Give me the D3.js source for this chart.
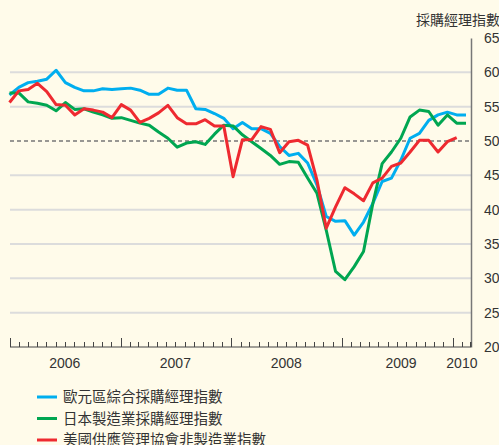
<!DOCTYPE html>
<html><head><meta charset="utf-8">
<script src="https://cdn.jsdelivr.net/npm/d3@7"></script>
<style>
html,body{margin:0;padding:0;background:#fffbea;}
svg{display:block;}
text{font-family:"Liberation Sans",Arial,"Noto Sans CJK TC",sans-serif;fill:#333;}
</style></head>
<body>
<script>
// ---- data (monthly, from Jan 2006) ----
const startMonth = "2006-01";
const euroComposite = [56.7,57.8,58.5,58.7,59.0,60.3,58.5,57.8,57.3,57.3,
  57.6,57.5,57.6,57.7,57.4,56.8,56.8,57.7,57.4,57.4,
  54.7,54.6,54.0,53.3,51.8,52.7,51.8,51.8,51.1,49.2,
  47.9,48.2,46.8,43.6,39.0,38.3,38.4,36.3,38.2,40.9,
  44.1,44.6,47.2,50.4,51.1,53.0,53.8,54.2,53.8,53.8];
const japanMfg = [57.0,57.0,55.7,55.5,55.2,54.4,55.6,54.6,54.7,54.2,
  53.8,53.3,53.4,53.0,52.6,52.3,51.3,50.4,49.1,49.7,
  49.9,49.5,51.0,52.3,52.2,50.9,49.9,48.9,47.9,46.6,
  47.0,46.9,44.6,42.4,37.0,31.0,29.8,31.7,33.9,40.9,
  46.7,48.4,50.4,53.5,54.5,54.3,52.3,53.8,52.6,52.6];
const usIsmNonMfg = [55.6,57.3,57.5,58.4,57.2,55.3,55.2,53.8,54.7,54.5,
  54.2,53.4,55.3,54.5,52.7,53.3,54.1,55.2,53.4,52.5,
  52.5,53.1,52.2,52.2,44.8,50.2,50.2,52.1,51.7,48.3,
  49.9,50.1,49.4,44.3,37.3,40.4,43.2,42.3,41.3,43.9,
  44.6,46.3,46.8,48.4,50.1,50.1,48.4,49.9,50.5];
const seriesNames = ["歐元區綜合採購經理指數","日本製造業採購經理指數","美國供應管理協會非製造業指數"];
const seriesColors = ["#00aeef","#00a651","#ee2a30"];
const yTicks = [20,25,30,35,40,45,50,55,60,65];
const yearLabels = ["2006","2007","2008","2009","2010"];
const yearLabelDates = ["2006-07-01","2007-07-01","2008-07-01","2009-07-15","2010-02-01"];
const yTitle = "採購經理指數";
const refLevel = 50;

const W = 499, H = 445;
const svg = d3.select("body").append("svg").attr("width", W).attr("height", H);
svg.append("rect").attr("width", W).attr("height", H).attr("fill", "#fffbea");

const pL = 10, pR = 471, pT = 38, pB = 347;
const y = d3.scaleLinear().domain([20, 65]).range([pB, pT]);
const xt = d3.scaleTime().domain([new Date(2006,0,1), new Date(2010,2,3)]).range([pL, pR]);
const xi = d3.scaleLinear().domain([0, 49]).range([9.5, 466]);

// gridlines
const g = svg.append("g");
g.selectAll("line.grid").data(yTicks.filter(v => v !== 20 && v !== 65 && v !== refLevel))
  .join("line").attr("class","grid")
  .attr("x1", pL).attr("x2", pR).attr("y1", d => y(d)).attr("y2", d => y(d))
  .attr("stroke", "#dcdcdc").attr("stroke-width", 2);
g.append("line").attr("x1", pL).attr("x2", pR).attr("y1", y(refLevel)).attr("y2", y(refLevel))
  .attr("stroke", "#777").attr("stroke-width", 1.5).attr("stroke-dasharray", "4,3");

// right axis
const ya = svg.append("g").attr("transform", `translate(${pR},0)`)
  .call(d3.axisRight(y).tickValues(yTicks).tickSize(0).tickPadding(13).tickFormat(d3.format("d")));
ya.select(".domain").attr("stroke", "#777").attr("stroke-width", 1.5);
ya.selectAll("text").attr("font-size", 14).attr("fill", "#333")
  .style("font-family", '"Liberation Sans",Arial,sans-serif');
svg.append("text").attr("x", W + 1).attr("y", 25).attr("text-anchor", "end")
  .attr("font-size", 14).style("font-family", '"Noto Sans CJK TC",sans-serif').text(yTitle);

// bottom axis
const months = d3.timeMonth.range(new Date(2006,0,1), new Date(2010,2,2));
const xa = svg.append("g").attr("transform", `translate(0,${pB})`);
xa.append("line").attr("x1", pL).attr("x2", pR).attr("stroke", "#444").attr("stroke-width", 1.2);
xa.selectAll("line.tk").data(months).join("line").attr("class","tk")
  .attr("x1", d => Math.round(xt(d)) + 0.5).attr("x2", d => Math.round(xt(d)) + 0.5)
  .attr("y1", 0).attr("y2", d => d.getMonth() === 0 ? -9 : -5)
  .attr("stroke", "#444").attr("stroke-width", 1);
xa.append("line").attr("x1", pR).attr("x2", pR).attr("y1", 0).attr("y2", -5).attr("stroke","#444");
xa.selectAll("text.yr").data(yearLabels).join("text").attr("class","yr")
  .attr("x", (d,i) => xt(new Date(yearLabelDates[i]))).attr("y", 21)
  .attr("text-anchor","middle").attr("font-size", 14).text(d => d);

// lines
const allSeries = [euroComposite, japanMfg, usIsmNonMfg];
const line = d3.line().x((d,i) => xi(i)).y(d => y(d));
svg.append("g").selectAll("path").data(allSeries).join("path")
  .attr("d", d => line(d)).attr("fill","none")
  .attr("stroke", (d,i) => seriesColors[i]).attr("stroke-width", 3)
  .attr("stroke-linejoin","round");

// legend
const lg = svg.append("g").selectAll("g").data(seriesNames).join("g")
  .attr("transform", (d,i) => `translate(37,${397 + i*21.5})`);
lg.append("line").attr("x1",0).attr("x2",20).attr("stroke",(d,i)=>seriesColors[i]).attr("stroke-width",3);
lg.append("text").attr("x", 26).attr("y", 5).attr("font-size", 14.5)
  .style("font-family", '"Noto Sans CJK TC",sans-serif').text(d => d);
</script>
</body></html>
